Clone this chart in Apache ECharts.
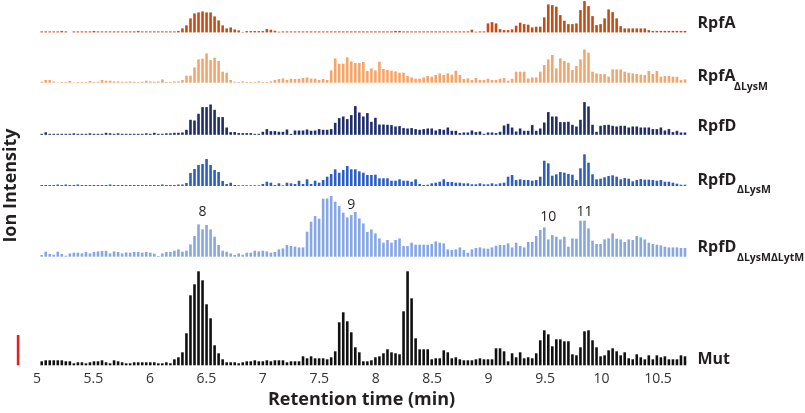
<!DOCTYPE html>
<html>
<head>
<meta charset="utf-8">
<script src="https://cdn.jsdelivr.net/npm/echarts@6/dist/echarts.min.js"></script>
<style>
html,body{margin:0;padding:0;background:#fff;}
#chart{width:805px;height:413px;}
</style>
</head>
<body>
<div id="chart"></div>
<script>
// ---- data: ion intensity per scan (arbitrary units) ----
const valuesRpfA = [
  1,1,1,1,1,1.5,1,0,1,1,
  1,1,1,1.5,1,1,1,1,1,1,
  1,1,1,1,1.5,1,1,1,1,1,
  1,1,1,1,1.5,4,7,14,19,20,
  21,20,20,16,12,7,4,5,3,2,
  0.5,1.3,1.3,1.3,1.3,1.3,3.3,2.7,1.7,0.7,
  1,1,1,1,1,1,1,1,1,1,
  1,1,1,1,1,1,1,1,1,1,
  1,1,1,1,1,1,1,1,1.5,1.5,
  1,1,1,1,1,1,1,1,1,1,
  1,1,1,1,1,1,1,2.7,0.7,1,
  1,9,10.3,9,3.3,2.3,2.3,3,6.7,9.7,
  8.3,7.7,5,5.7,5.7,15,28,27.3,25.7,17.3,
  11.7,8.3,8.3,9,22.3,31.3,26.3,16.3,7.3,8.3,
  14,23,20.3,14,6.3,4,4,4,4,4,
  4,2.3,1.5,1.5,1.5,1.5,1.5,1.5,1.5,1.5,
  1.5
];
const valuesRpfADLysM = [
  1,2.7,2.7,1.3,0.3,0.7,0.7,1.7,0.3,0.7,
  0.7,0.7,1.7,0.7,1,2.7,2,2,1.3,1.3,
  1,1,1.3,1,0.7,1,2,1.3,1,1.3,
  3.3,0.7,0.7,1.3,1.3,2.7,7,7,15.3,23.3,
  24,29.3,22.7,25,21.7,11,10,2.7,1,0.7,
  1.3,0.7,0.7,0.7,1.3,0.7,0.7,1.3,2.7,3.7,
  4.3,2.7,4,3.7,4,4.7,5.3,4,4,2.7,
  3.7,2.7,12.3,24.3,19,19,25.3,21.3,19.7,19.7,
  20.7,11.7,14.3,12.3,21,13.7,12.7,12,11.3,10,
  10,6.7,5.3,4,4,5.3,6.7,6,7.7,9.3,
  7.7,9.3,8,12,7.7,3.7,4.3,2.7,4.7,2.7,
  2.7,4,2.7,2.7,4,4.7,2,4,11,11,
  11,4.3,5.3,5.3,11,17.7,23.3,27.7,14.3,24.3,
  21.7,20,12.7,16.7,23.3,33.3,30,11,9.3,8.7,
  8.7,6,13.3,13.3,13.3,11,10,9.3,8.7,8,
  7.7,11.7,8.7,11.7,6,6.7,6.7,6,6,2.7,
  3.3
];
const valuesRpfD = [
  1,2.5,1,1,1,1,1,1,1.5,1,
  1,1,1.5,1,1,1,2,1.5,1,1.5,
  1,1,1,1,1,1,1.5,1,2,1,
  1,1.5,1.5,2,2,2.3,5,15,14.3,21,
  27.7,27.7,30.3,25,17.7,17.7,7.3,2.7,2.7,1.7,
  1.7,1.7,1.7,1,1,3,5.7,3.7,3.7,3,
  3,5.3,1,4.3,4.3,4.3,5.3,4,4.3,5.7,
  5,5,5.7,12,16.7,18.3,15.7,19.7,28.7,22.3,
  18.3,21.7,13,17,10.3,10.3,10,9.7,8.3,8.7,
  6.7,6.3,6.7,5.7,5,5.7,6.3,6.3,4.3,5.7,
  5,7.3,4,4,1.7,2.3,2.3,4.3,2.7,3.3,
  1,2.3,2.3,1.7,3,9.3,11,7.3,3.3,6.3,
  4,4,9.7,4,6.3,12.3,22.7,18.3,18.3,12.7,
  12.7,13,10,8.3,15,32.7,28.3,10,3,9,
  9.7,10,9,8.3,9,9,7.3,8.3,8.3,7.3,
  7.3,7.3,5.7,5.7,7.3,4.3,5.7,2.7,4,2.3,
  2.3
];
const valuesRpfDDLysM = [
  1,1,1,1,1.5,1,1.5,1,1,1.5,
  1,1,1,1,1,1,1,1.5,1,1,
  1,1,1,1,1,1,1,1,1,1,
  1.5,1,1,1,1.5,1.5,3,13,17,21,
  22,27,21,16,14,5,2,3.3,1,0.7,
  0.7,0.7,0.7,0.7,0.7,2,4.3,3.3,1,2.7,
  0.7,3.3,2.7,2,5.3,2,6.7,2,5.3,3.3,
  6,9.3,12,16.7,13.3,16,20,16.7,16.7,14.7,
  13.3,11,11,11.3,7.7,7.7,7.7,5.3,5.3,6.7,
  5.3,5.3,4.3,6.7,2,1,1.3,2.7,3.3,4.3,
  6.7,4,4,3.3,3.3,2.7,2.7,1.7,1.7,2.7,
  1.7,1.7,2.7,1.7,2.7,3.3,9.3,11,6,6.7,
  6,6,5.3,6,9.3,25.3,22.7,10.3,11.7,14,
  13.3,12,11.3,6,17.7,31.7,23.3,11.7,6.7,7.3,
  8.7,10,10.7,9.3,6.7,8,7.3,4.7,6,7,
  6.3,6.3,6,5.3,6,4.3,4.3,3.3,2.3,1.3,
  1.3
];
const valuesRpfDDLysMDLytM = [
  1.7,5,2.7,2,5,2.7,1,3.3,4,4,
  3.3,4.7,3.3,4.7,5.3,5.7,5.7,3.3,5.3,4.7,
  3.3,4.3,4,4.7,4.7,4,4.7,4,3,0.7,
  3.3,4.7,4.7,6,7.3,5,6,12.3,20.7,32.3,
  27.3,31.7,27.3,20,11.7,6,5,3.3,1.7,3.3,
  2,4,4,6,5.3,6,5.3,4,4.7,7.3,
  8.3,11.7,10.7,10,9.3,9.3,25,35,40.7,38,
  58,58.3,60.7,55,50.7,44,39.3,41.7,44.7,38.3,
  33.3,24.7,27.3,23.3,18.3,14,16.7,14,16.7,18.3,
  10.7,10.7,14,12,12,12,12,12.7,15.3,14,
  13.3,7.3,6.7,7.3,9.3,6.7,4,7.3,8.7,9.3,
  8.3,8,9.3,11,11.7,11.7,13.3,9.3,14,10.7,
  9.3,14.7,14.7,20.7,26.7,29.3,17.3,21.7,20,17.3,
  20,10,18.3,18,36,36,28.3,16,12.7,12.7,
  17.3,18.3,23.3,18,17.3,14.7,17.3,16.7,20.7,19.3,
  17.3,14,12.7,12,11.3,10,9.3,9.3,9.3,8.7,
  8.7
];
const valuesMut = [
  4,5,5,5,5,5,4,4,2,3,
  3,2,3,4,4,5,3,2,5,4,
  3,2,2,3,3,3,3,3,3,2,
  2,3,2,6,8,13,32,70,81,94,
  85,61,47,20,12,6,3,3,3,2,
  3,4,4,5,4,4,5,4,5,5,
  5,3,4,4,4,9,7,9,7,7,
  7,6,8,14,43,53,44,33,18,13,
  4,4,5,8,9,12,16,13,12,11,
  54,94,67,27,16,16,16,6,7,7,
  15,13,7,8,6,5,5,5,6,7,
  6,6,6,17,17,14,4,12,8,13,
  7,8,7,12,25,35,31,19,26,26,
  24,24,11,10,18,34,35,25,18,9,
  10,15,17,14,10,13,7,6,11,8,
  6,10,6,10,8,9,6,6,6,10,
  9
];
// scan retention times (min): one scan every ~0.0356 min from 5.042 min
const retentionTimes = valuesMut.map((_, i) => (5.042 + i * 0.0356).toFixed(3));
const traceNames = ['RpfA', 'RpfA', 'RpfD', 'RpfD', 'RpfD', 'Mut'];
const traceSubs = ['', 'ΔLysM', '', 'ΔLysM', 'ΔLysMΔLytM', ''];
const peakLabels = [
  {text: '8', at: 40, level: 45},
  {text: '9', at: 77, level: 51.7},
  {text: '10', at: 126, level: 39.7},
  {text: '11', at: 135, level: 45}
];
const timeMin = 5, timeMax = 10.75, timeStep = 0.5;

// ---- layout / style ----
const seriesValues = [valuesRpfA, valuesRpfADLysM, valuesRpfD, valuesRpfDDLysM, valuesRpfDDLysMDLytM, valuesMut];
const colors = ['#c84b14', '#f6a56a', '#1f2d6b', '#2d5ec4', '#86a6e4', '#111111'];
const baselines = [32.4, 82.7, 134.8, 186, 256.7, 365.3];
const heights = [32.4, 40, 40, 40, 65, 100];
const nameY = [23.8, 76.5, 126.5, 180, 247.5, 359.8];
const subY = [0, 87, 0, 190, 258.5, 0];
const subX = [0, 734, 0, 737, 737, 0];
const FONT = '"Open Sans", "Liberation Sans", sans-serif';

const barLeft = 39.7, barSpan = 647.3;
const grids = [], xAxes = [], yAxes = [], series = [];
seriesValues.forEach((vals, k) => {
  grids.push({left: barLeft, width: barSpan, top: baselines[k] - heights[k], height: heights[k]});
  xAxes.push({gridIndex: k, type: 'category', data: retentionTimes, show: false, boundaryGap: true});
  yAxes.push({gridIndex: k, type: 'value', min: 0, max: heights[k], show: false});
  const s = {
    type: 'bar', xAxisIndex: k, yAxisIndex: k, data: vals, barWidth: 2.6,
    itemStyle: {color: colors[k]}, silent: true, animation: false
  };
  if (k === 4) {
    s.markPoint = {
      symbol: 'circle', symbolSize: 0, silent: true, animation: false,
      label: {show: true, position: 'inside', formatter: '{b}', fontSize: 14, color: '#231f20', fontFamily: FONT},
      data: peakLabels.map(p => ({name: p.text, coord: [retentionTimes[p.at], p.level]}))
    };
  }
  series.push(s);
});
// time axis
grids.push({left: 37, width: 649.2, top: 365.3, height: 1});
xAxes.push({
  gridIndex: 6, type: 'value', min: timeMin, max: timeMax, interval: timeStep,
  axisLine: {show: false}, axisTick: {show: false}, splitLine: {show: false},
  axisLabel: {fontSize: 14, color: '#333', margin: 6, showMaxLabel: false, fontFamily: FONT},
  name: 'Retention time (min)', nameLocation: 'middle', nameGap: 25,
  nameTextStyle: {fontSize: 18, fontWeight: 'bold', color: '#231f20', fontFamily: FONT}
});
yAxes.push({gridIndex: 6, type: 'value', show: false});

const graphic = [];
traceNames.forEach((n, k) => {
  graphic.push({type: 'text', x: 697.5, y: nameY[k], silent: true,
    style: {text: n, font: 'bold 16px ' + FONT, fill: '#231f20', align: 'left', verticalAlign: 'middle', textAlign: 'left', textVerticalAlign: 'middle'}});
  if (traceSubs[k]) {
    graphic.push({type: 'text', x: subX[k], y: subY[k], silent: true,
      style: {text: traceSubs[k], font: 'bold 10.5px ' + FONT, fill: '#231f20', align: 'left', verticalAlign: 'middle', textAlign: 'left', textVerticalAlign: 'middle'}});
  }
});
graphic.push({type: 'text', x: 11, y: 185.5, rotation: Math.PI / 2, silent: true,
  style: {text: 'Ion Intensity', font: 'bold 18px ' + FONT, fill: '#231f20', align: 'center', verticalAlign: 'middle', textAlign: 'center', textVerticalAlign: 'middle'}});
graphic.push({type: 'rect', silent: true, shape: {x: 16.8, y: 335, width: 2.6, height: 30.3}, style: {fill: '#e31e24'}});

const chart = echarts.init(document.getElementById('chart'), null, {renderer: 'canvas'});
chart.setOption({
  animation: false,
  backgroundColor: '#ffffff',
  grid: grids, xAxis: xAxes, yAxis: yAxes, series: series, graphic: graphic
});
</script>
</body>
</html>
